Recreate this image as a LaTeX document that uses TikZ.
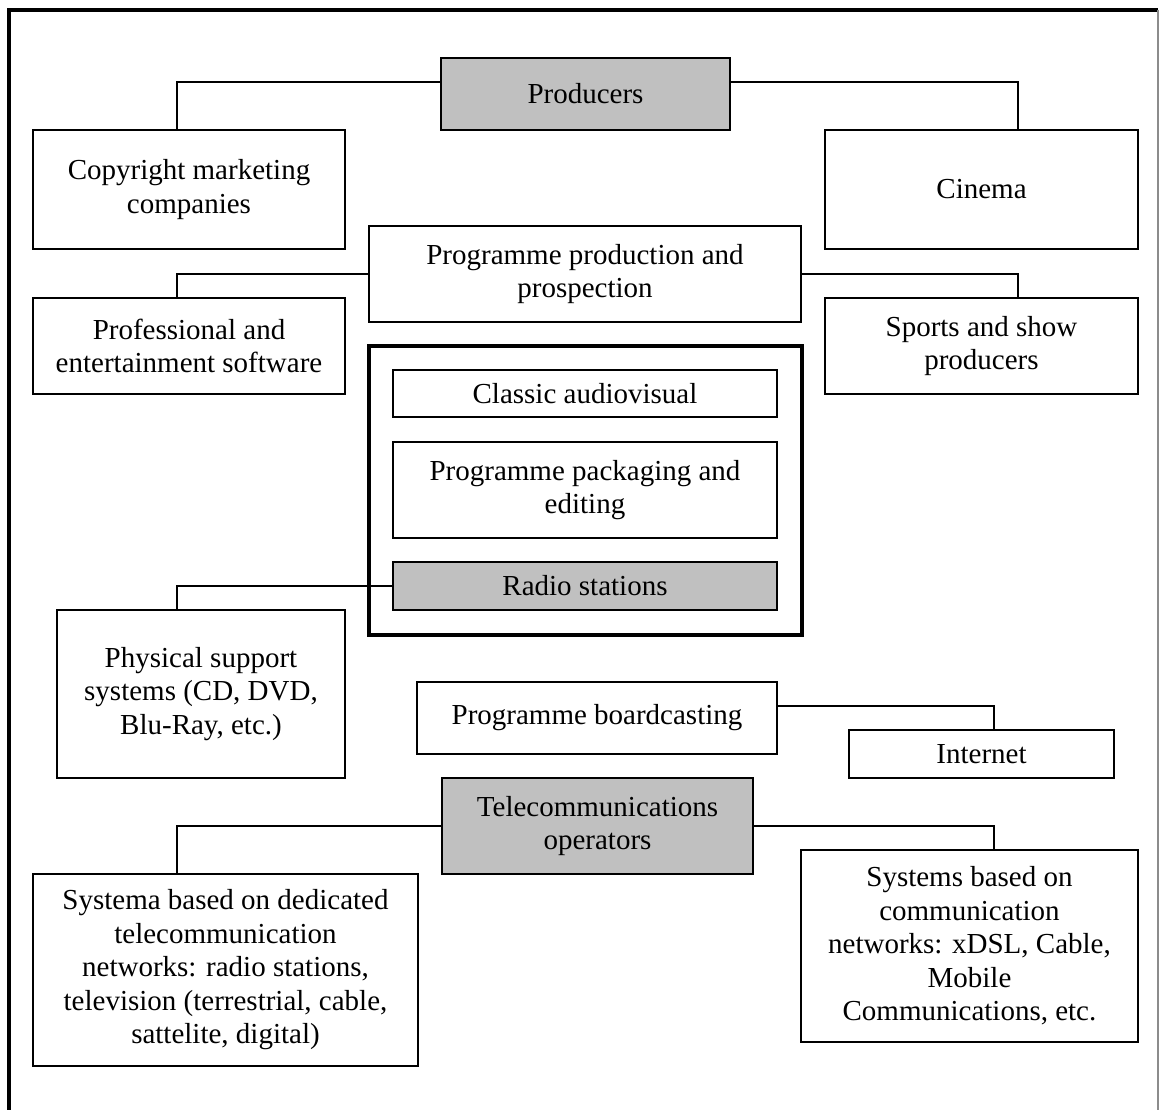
\documentclass[tikz,border=0pt]{standalone}
\usepackage{fontspec}
\setmainfont{Liberation Serif}
\usepackage{tikz}
\usetikzlibrary{positioning, calc}
\definecolor{boxgray}  {RGB}{192, 192, 192}
\definecolor{framegray}{RGB}{140, 140, 140}

\begin{document}
\begin{tikzpicture}[x=1pt, y=-1pt,
  unit/.style={draw=black, line width=2.2pt, fill=white, align=center, inner sep=0pt, font=\fontsize{29}{33.5}\selectfont},
  actor/.style={unit, fill=boxgray},
  group/.style={draw=black, line width=3.6pt, inner sep=0pt},
  link/.style={line width=2pt, color=black}
]
  \useasboundingbox (0,0) rectangle (1160,1110);

  % Outer frame
  \draw[line width=3.2pt] (9,1110) -- (9,10) -- (1158,10);
  \draw[line width=2pt, framegray] (1158,10) -- (1158,1110);

  % Producers
  \node[actor, minimum width=289pt, minimum height=72pt] (prod) at (585.5,94) {Producers};
  \node[unit, minimum width=312pt, minimum height=119pt] (copy) at (189,189.5) {Copyright marketing\\companies};
  \node[unit, minimum width=313pt, minimum height=119pt] (cinema) at (981.5,189.5) {Cinema};

  % Programme production
  \node[unit, minimum width=432pt, minimum height=96pt] (progprod) at (585,274) {Programme production and\\prospection};
  \node[unit, minimum width=312pt, minimum height=96pt] (prof) at (189,346) {Professional and\\entertainment software};
  \node[unit, minimum width=313pt, minimum height=96pt] (sports) at (981.5,346) {Sports and show\\producers};

  % Classic audiovisual group
  \node[group, minimum width=433pt, minimum height=289pt] (av) at (585.5,490.5) {};
  \node[unit, minimum width=384pt, minimum height=47pt] (classic) at (585,393.5) {Classic audiovisual};
  \node[unit, minimum width=384pt, minimum height=96pt] (packing) at (585,490) {Programme packaging and\\editing};
  \node[actor, minimum width=384pt, minimum height=48pt] (radio) at (585,586) {Radio stations};

  \node[unit, minimum width=288pt, minimum height=168pt] (physical) at (201,694) {Physical support\\systems (CD, DVD,\\Blu-Ray, etc.)};

  % Broadcasting
  \node[unit, minimum width=360pt, minimum height=72pt] (broadcast) at (597,718) {Programme boardcasting};
  \node[unit, minimum width=265pt, minimum height=48pt] (internet) at (981.5,754) {Internet};

  % Telecommunications
  \node[actor, minimum width=311pt, minimum height=96pt] (telecom) at (597.5,826) {Telecommunications\\operators};
  \node[unit, minimum width=385pt, minimum height=192pt] (systema) at (225.5,970) {Systema based on dedicated\\telecommunication\\networks: radio stations,\\television (terrestrial, cable,\\sattelite, digital)};
  \node[unit, minimum width=337pt, minimum height=192pt] (systems) at (969.5,946) {Systems based on\\communication\\networks: xDSL, Cable,\\Mobile\\Communications, etc.};

  % Links
  \draw[link] (prod.west) ++(0,-12) -| ([xshift=-12pt]copy.north);
  \draw[link] (prod.east) ++(0,-12) -| ([xshift=36.5pt]cinema.north);
  \draw[link] (progprod.west) -| ([xshift=-12pt]prof.north);
  \draw[link] (progprod.east) -| ([xshift=36.5pt]sports.north);
  \draw[link] (radio.west) -| ([xshift=-24pt]physical.north);
  \draw[link] (broadcast.east) ++(0,-12) -| ([xshift=12.5pt]internet.north);
  \draw[link] (telecom.west) -| ([xshift=-48.5pt]systema.north);
  \draw[link] (telecom.east) -| ([xshift=24.5pt]systems.north);
\end{tikzpicture}
\end{document}
